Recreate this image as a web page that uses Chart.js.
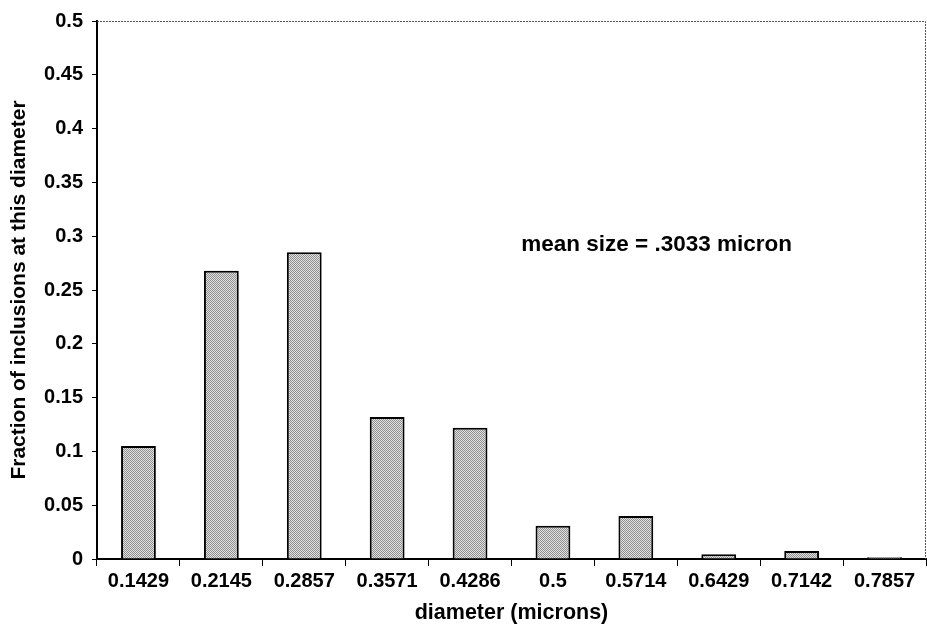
<!DOCTYPE html>
<html>
<head>
<meta charset="utf-8">
<script src="https://cdn.jsdelivr.net/npm/chart.js@4.4.1/dist/chart.umd.min.js"></script>
<style>
  html, body { margin: 0; padding: 0; background: #fff; }
  #wrap { width: 927px; height: 638px; }
</style>
</head>
<body>
<div id="wrap"><canvas id="chart"></canvas></div>
<script>
// inclusion size distribution
const diameters = ['0.1429', '0.2145', '0.2857', '0.3571', '0.4286', '0.5', '0.5714', '0.6429', '0.7142', '0.7857'];
const fractions = [0.105, 0.268, 0.285, 0.132, 0.122, 0.031, 0.040, 0.0045, 0.0075, 0.0017];
const yTicks = [0, 0.05, 0.1, 0.15, 0.2, 0.25, 0.3, 0.35, 0.4, 0.45, 0.5];
const noteText = 'mean size = .3033 micron';
const noteAt = { x: 6.25, y: 0.292 };

const FONT = "'Liberation Sans', Arial, sans-serif";

// stippled gray fill like the scanned original
function stipple() {
  const c = document.createElement('canvas');
  c.width = 2; c.height = 2;
  const g = c.getContext('2d');
  g.fillStyle = '#e2e2e2'; g.fillRect(0, 0, 2, 2);
  g.fillStyle = '#8e8e8e'; g.fillRect(0, 0, 1, 1); g.fillRect(1, 1, 1, 1);
  return g.createPattern(c, 'repeat');
}

// note text + gray top/right frame
const frameAndNote = {
  id: 'frameAndNote',
  afterDraw(chart) {
    const { ctx, chartArea: a, scales } = chart;
    ctx.save();
    ctx.strokeStyle = '#555';
    ctx.lineWidth = 1;
    ctx.setLineDash([2, 1]);
    ctx.beginPath();
    ctx.moveTo(a.left, a.top + 0.5);
    ctx.lineTo(a.right - 0.5, a.top + 0.5);
    ctx.lineTo(a.right - 0.5, a.bottom);
    ctx.stroke();
    ctx.setLineDash([]);
    ctx.fillStyle = '#000';
    ctx.font = 'bold 22.5px ' + FONT;
    ctx.textAlign = 'center';
    ctx.textBaseline = 'middle';
    ctx.fillText(noteText, scales.x.getPixelForValue(noteAt.x), scales.y.getPixelForValue(noteAt.y));
    ctx.restore();
  }
};

const ctx = document.getElementById('chart').getContext('2d');
new Chart(ctx, {
  type: 'bar',
  data: {
    labels: diameters,
    datasets: [{
      data: fractions,
      backgroundColor: stipple(),
      borderColor: '#000',
      borderWidth: 2,
      borderSkipped: 'bottom',
      categoryPercentage: 1,
      barPercentage: 0.42
    }]
  },
  options: {
    responsive: true,
    maintainAspectRatio: false,
    animation: false,
    layout: { padding: { top: 21, right: 1, left: 0, bottom: 0 } },
    plugins: {
      legend: { display: false },
      tooltip: { enabled: false }
    },
    scales: {
      x: {
        grid: { drawOnChartArea: false, drawTicks: true, tickLength: 7, color: '#000', lineWidth: 1 },
        border: { display: true, color: '#000', width: 2 },
        ticks: { color: '#000', font: { family: FONT, size: 20, weight: 'bold' }, padding: 3, maxRotation: 0 },
        title: {
          display: true,
          text: 'diameter (microns)',
          color: '#000',
          font: { family: FONT, size: 21.5, weight: 'bold' },
          padding: { top: 0, bottom: 12 }
        },
        afterFit: (scale) => { scale.height = 79; }
      },
      y: {
        min: 0,
        max: 0.5,
        afterBuildTicks: (scale) => { scale.ticks = yTicks.map(v => ({ value: v })); },
        grid: { drawOnChartArea: false, drawTicks: true, tickLength: 5, color: '#000', lineWidth: 1 },
        border: { display: true, color: '#000', width: 2 },
        ticks: {
          color: '#000',
          font: { family: FONT, size: 20, weight: 'bold' },
          padding: 9,
          callback: (v) => String(+(+v).toFixed(2))
        },
        title: {
          display: true,
          text: 'Fraction of inclusions at this diameter',
          color: '#000',
          font: { family: FONT, size: 21, weight: 'bold' },
          padding: { top: 7, bottom: 0 }
        },
        afterFit: (scale) => { scale.width = 97; }
      }
    }
  },
  plugins: [frameAndNote]
});
</script>
</body>
</html>
